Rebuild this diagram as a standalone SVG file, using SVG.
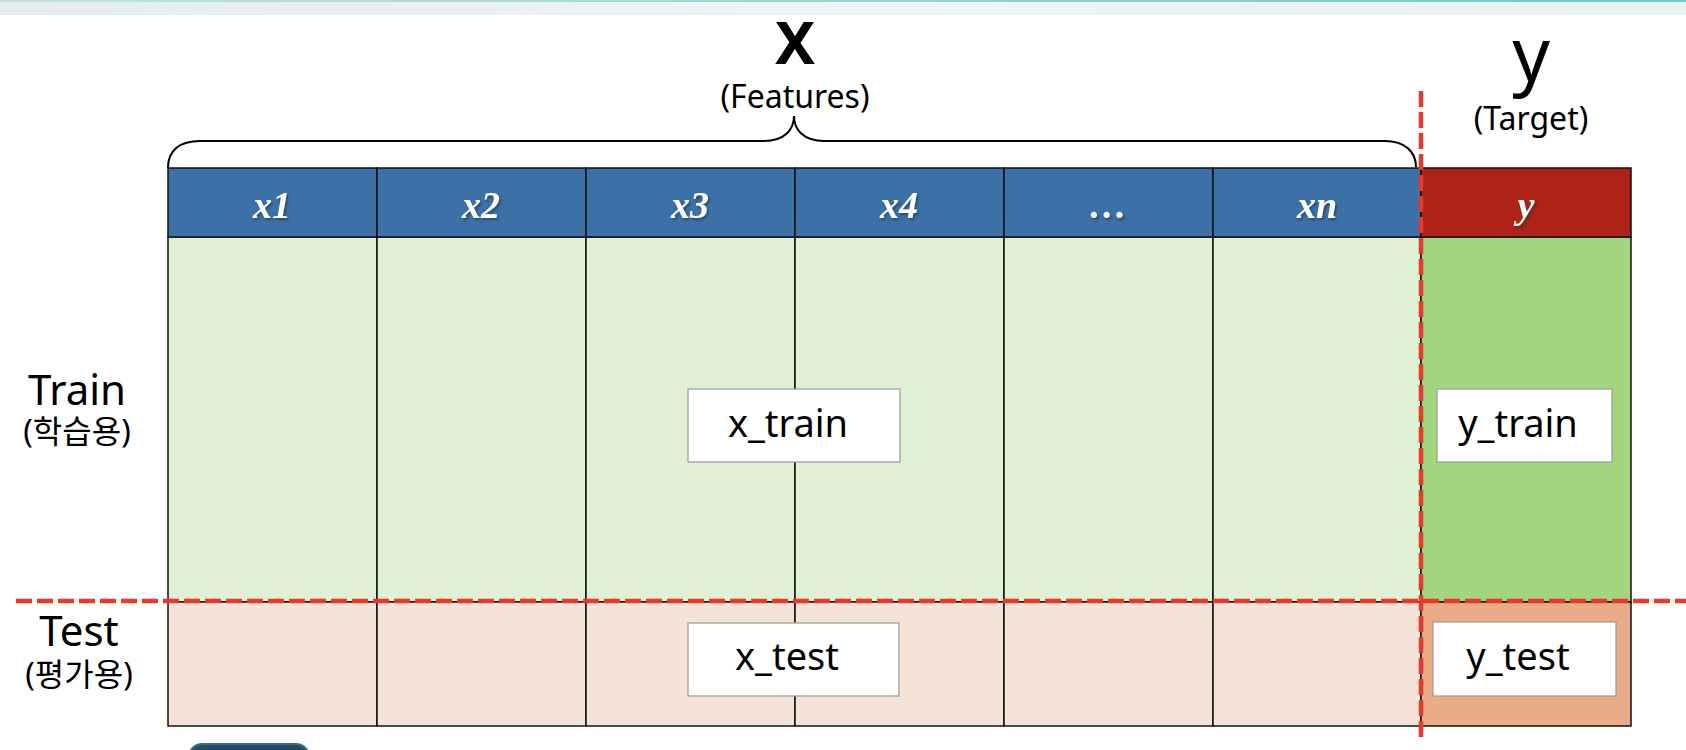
<svg xmlns="http://www.w3.org/2000/svg" width="1686" height="750" viewBox="0 0 1686 750">
<defs>
<linearGradient id="band" x1="0" y1="0" x2="1" y2="0">
<stop offset="0" stop-color="#e3eeec"/>
<stop offset="0.5" stop-color="#eef4f3"/>
<stop offset="1" stop-color="#e8f2f1"/>
</linearGradient>
<linearGradient id="bandline" x1="0" y1="0" x2="1" y2="0">
<stop offset="0" stop-color="#bfe3e0"/>
<stop offset="0.6" stop-color="#8fd3cf"/>
<stop offset="1" stop-color="#6ccac6"/>
</linearGradient>
<filter id="sh" x="-30%" y="-30%" width="160%" height="160%">
<feDropShadow dx="1.5" dy="2" stdDeviation="1" flood-color="#1a2a3a" flood-opacity="0.6"/>
</filter>
</defs>
<style>
.hd{font-family:"Liberation Serif","Times New Roman",serif;font-style:italic;font-weight:bold;font-size:38px;fill:#ffffff;text-anchor:middle;filter:url(#sh)}
.hb{fill:#3b71a7;stroke:#111;stroke-width:1.5}
.hr{fill:#ad2318;stroke:#111;stroke-width:1.5}
.tr{fill:#dff0d4;stroke:#111;stroke-width:1.5}
.ytr{fill:#a1d67e;stroke:#111;stroke-width:1.5}
.te{fill:#f5e3d8;stroke:#111;stroke-width:1.5}
.yte{fill:#e8ac89;stroke:#111;stroke-width:1.5}
.box{fill:#ffffff;stroke:#9a9a9a;stroke-width:1.2}
.bt{font-family:"Noto Sans","Noto Sans CJK KR",sans-serif;font-size:38px;fill:#000;text-anchor:middle}
.lab{font-family:"Noto Sans","Noto Sans CJK KR",sans-serif;fill:#000;text-anchor:middle}
.dash{stroke:#e8392b;stroke-width:4.5;stroke-dasharray:16 5;fill:none}
.brace{fill:none;stroke:#000;stroke-width:2}
</style>
<rect x="0" y="0" width="1686" height="15" fill="url(#band)"/>
<rect x="0" y="0" width="1686" height="2" fill="url(#bandline)"/>

<g id="title-x">
<text class="lab" x="795" y="64" font-size="60" font-weight="bold">X</text>
<text class="lab" x="795" y="108" font-size="32">(Features)</text>
</g>
<g id="title-y">
<text class="lab" x="1531" y="81" font-size="74">y</text>
<text class="lab" x="1531" y="130" font-size="32">(Target)</text>
</g>

<g id="label-train">
<text class="lab" x="77" y="405" font-size="42">Train</text>
<text class="lab" x="77" y="443" font-size="32">(학습용)</text>
</g>
<g id="label-test">
<text class="lab" x="79" y="646" font-size="42">Test</text>
<text class="lab" x="79" y="686" font-size="32">(평가용)</text>
</g>

<g id="train-row">
<rect class="tr" x="168" y="237" width="209" height="365"/>
<rect class="tr" x="377" y="237" width="209" height="365"/>
<rect class="tr" x="586" y="237" width="209" height="365"/>
<rect class="tr" x="795" y="237" width="209" height="365"/>
<rect class="tr" x="1004" y="237" width="209" height="365"/>
<rect class="tr" x="1213" y="237" width="208" height="365"/>
<rect class="ytr" x="1421" y="237" width="210" height="365"/>
</g>
<g id="test-row">
<rect class="te" x="168" y="602" width="209" height="124"/>
<rect class="te" x="377" y="602" width="209" height="124"/>
<rect class="te" x="586" y="602" width="209" height="124"/>
<rect class="te" x="795" y="602" width="209" height="124"/>
<rect class="te" x="1004" y="602" width="209" height="124"/>
<rect class="te" x="1213" y="602" width="208" height="124"/>
<rect class="yte" x="1421" y="602" width="210" height="124"/>
</g>

<g id="header">
<g id="h-x1"><rect class="hb" x="168" y="168" width="209" height="69"/><text class="hd" x="272" y="218">x1</text></g>
<g id="h-x2"><rect class="hb" x="377" y="168" width="209" height="69"/><text class="hd" x="481" y="218">x2</text></g>
<g id="h-x3"><rect class="hb" x="586" y="168" width="209" height="69"/><text class="hd" x="690" y="218">x3</text></g>
<g id="h-x4"><rect class="hb" x="795" y="168" width="209" height="69"/><text class="hd" x="899" y="218">x4</text></g>
<g id="h-dots"><rect class="hb" x="1004" y="168" width="209" height="69"/><text class="hd" x="1108" y="218">…</text></g>
<g id="h-xn"><rect class="hb" x="1213" y="168" width="208" height="69"/><text class="hd" x="1317" y="218">xn</text></g>
<g id="h-y"><rect class="hr" x="1421" y="168" width="210" height="69"/><text class="hd" x="1526" y="218">y</text></g>
</g>

<g id="x_train"><rect class="box" x="688" y="389" width="212" height="73"/><text class="bt" x="788" y="437">x_train</text></g>
<g id="y_train"><rect class="box" x="1437" y="389" width="175" height="73"/><text class="bt" x="1518" y="437">y_train</text></g>
<g id="x_test"><rect class="box" x="688" y="623" width="211" height="73"/><text class="bt" x="787" y="670">x_test</text></g>
<g id="y_test"><rect class="box" x="1433" y="622" width="183" height="74"/><text class="bt" x="1518" y="670">y_test</text></g>

<g id="connectors">
<path class="brace" d="M168 168 C168 150 180 141 200 141 L764 141 C784 141 794 130 794 116 C794 130 804 141 824 141 L1385 141 C1405 141 1416 152 1416 167"/>
<line class="dash" x1="16" y1="601" x2="1686" y2="601"/>
<line class="dash" x1="1421" y1="91" x2="1421" y2="737"/>
</g>

<rect x="189" y="744" width="120" height="40" rx="13" fill="#234a66" stroke="#3d6b8a" stroke-width="2"/>
</svg>
